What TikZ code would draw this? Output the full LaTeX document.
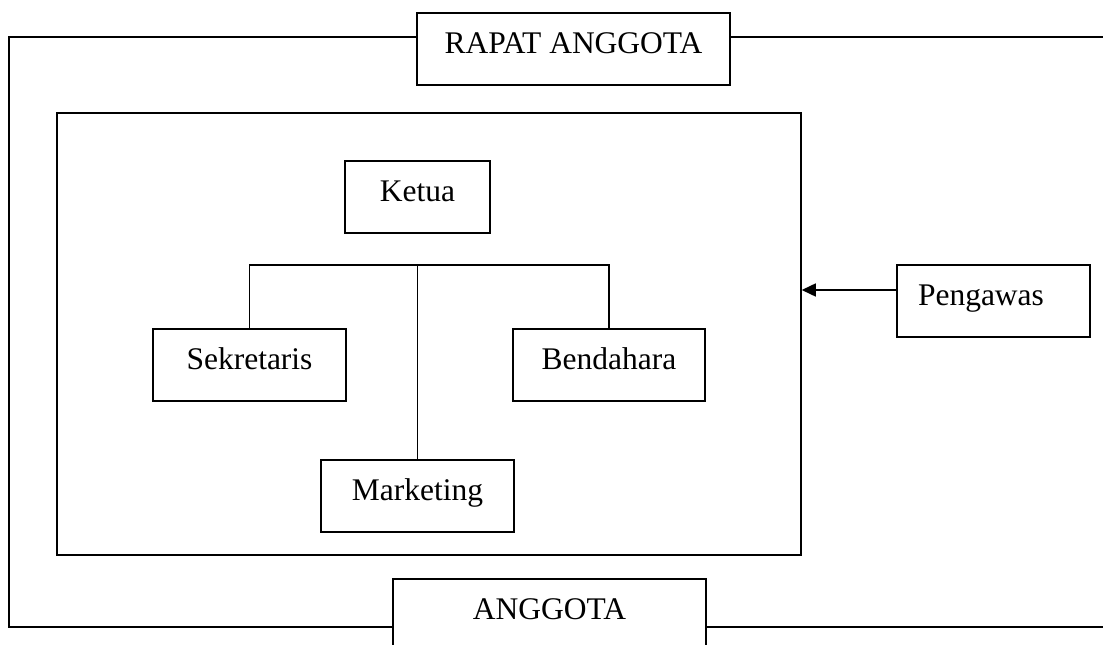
\documentclass[tikz,border=0pt]{standalone}
\usepackage{fontspec}
\setmainfont{Liberation Serif}
\usetikzlibrary{arrows.meta}

\begin{document}
\begin{tikzpicture}[x=1pt, y=-1pt]
        % ================= gaya =================
        \tikzset{
            % kotak jabatan: putih, garis hitam
            kotak/.style={draw=black, line width=1.5pt, fill=white, inner sep=0pt,
                minimum width=193pt, minimum height=72pt,
                text height=22pt, text depth=13pt,
                font=\fontsize{31.5}{38}\selectfont},
            % bingkai besar
            bingkai/.style={draw=black, line width=1.5pt, inner sep=0pt},
            % garis hubung
            garis/.style={line width=1.5pt, black},
            % panah pengawasan
            panah/.style={line width=1.5pt, black, -{Triangle[length=14pt, width=13pt]}}
        }

        \clip (0,0) rectangle (1103,645);

        % ================= 1. bingkai =================
        % bingkai luar keluar di sisi kanan
        \node[bingkai, minimum width=1111pt, minimum height=590pt] (luar) at (564.5,332) {};
        % bingkai pengurus
        \node[bingkai, minimum width=744pt, minimum height=442pt] (pengurus) at (429,334) {};

        % ================= 2. kotak =================
        \node[kotak, minimum width=313pt] (rapat) at (573.5,49) {RAPAT ANGGOTA};
        \node[kotak, minimum width=313pt] (anggota) at (549.5,615) {ANGGOTA};

        \node[kotak, minimum width=145pt] (ketua) at (417.5,197) {Ketua};
        \node[kotak] (sekretaris) at (249.5,365) {Sekretaris};
        \node[kotak, minimum width=192pt] (bendahara) at (609,365) {Bendahara};
        \node[kotak] (marketing) at (417.5,496) {Marketing};

        % pengawas: teks agak ke kiri
        \node[kotak, text width=151pt, inner xsep=21pt, align=left] (pengawas) at (993.5,301) {Pengawas};

        % ================= 3. garis =================
        \coordinate (cabang) at (417.5,265);
        \draw[garis] (sekretaris.north) |- (cabang) -| (bendahara.north);
        \draw[garis] (cabang) -- (marketing.north);

        % panah dari pengawas ke bingkai pengurus
        \coordinate (awas) at ([yshift=11pt]pengawas.west);
        \draw[panah] (awas) -- (awas -| pengurus.east);

    \end{tikzpicture}
\end{document}
